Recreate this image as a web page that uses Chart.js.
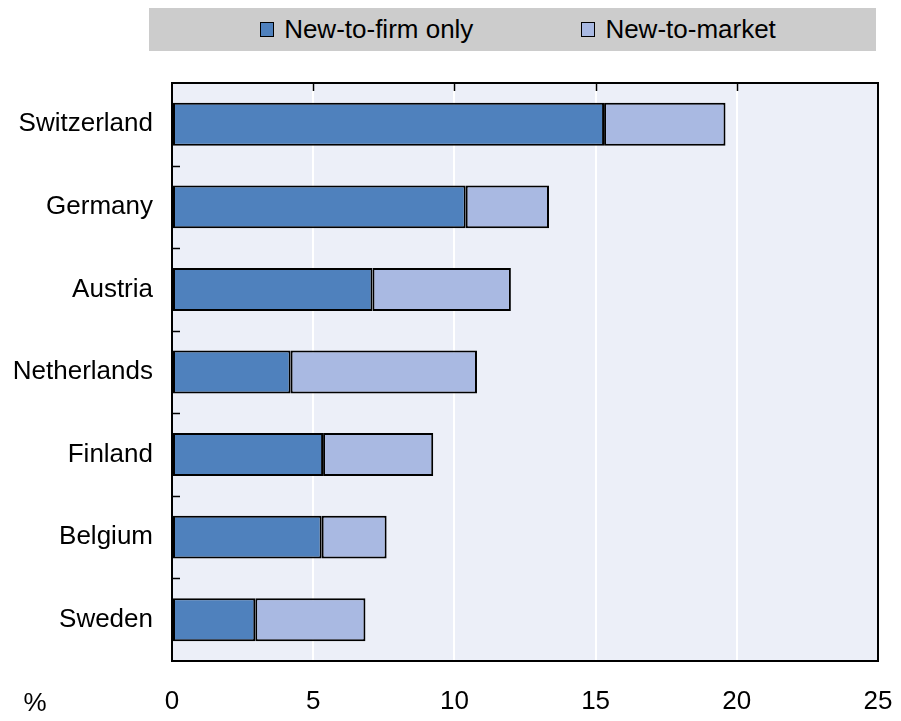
<!DOCTYPE html>
<html>
<head>
<meta charset="utf-8">
<script src="https://cdn.jsdelivr.net/npm/chart.js@4/dist/chart.umd.min.js"></script>
<style>
  body{ margin:0; background:#fff; }
  #wrap{ position:relative; width:901px; height:721px; }
  #chart{ position:absolute; left:0; top:0; }
  #legend{
    position:absolute; left:149px; top:8px; width:727px; height:43px;
    background:#cccccc; display:flex; justify-content:center; align-items:center;
    font-family:"Liberation Sans",Arial,sans-serif;
    font-size:26px; color:#000; padding-left:11px; box-sizing:border-box;
  }
  .item{ display:flex; align-items:center; margin:0 54px; }
  .box{ width:12px; height:13px; border:1.5px solid #000; margin-right:10px; }
</style>
</head>
<body>
<div id="wrap">
  <div id="legend"></div>
  <canvas id="chart" width="901" height="721"></canvas>
</div>
<script>
var countries   = ['Switzerland','Germany','Austria','Netherlands','Finland','Belgium','Sweden'];
var newToFirm   = [15.3, 10.4, 7.1, 4.2, 5.35, 5.3, 2.95];
var newToMarket = [4.3, 2.95, 4.9, 6.6, 3.9, 2.3, 3.9];
var seriesNames = ['New-to-firm only','New-to-market'];
var seriesColors= ['#4f81bd','#a9b9e2'];
var xTicks      = [0, 5, 10, 15, 20, 25];

var FONT = '"Liberation Sans",Arial,sans-serif';

// legend in html
var lg = document.getElementById('legend');
for(var i=0;i<seriesNames.length;i++){
  var it = document.createElement('div');
  it.className = 'item';
  it.innerHTML = '<span class="box" style="background:' + seriesColors[i] + '"></span>' + seriesNames[i];
  lg.appendChild(it);
}

var framePlugin = {
  id: 'frame',
  beforeDraw: function(chart){
    var a = chart.chartArea, c = chart.ctx;
    c.save();
    c.fillStyle = '#eceff8';
    c.fillRect(a.left, a.top, a.right - a.left, a.bottom - a.top);
    c.restore();
  },
  afterDatasetsDraw: function(chart){
    var a = chart.chartArea, c = chart.ctx;
    var xs = chart.scales.x, ys = chart.scales.y;
    c.save();
    c.strokeStyle = '#000';
    c.lineWidth = 1.5;
    // top ticks pointing in
    c.beginPath();
    for(var i=1;i<xTicks.length-1;i++){
      var px = Math.round(xs.getPixelForValue(xTicks[i])) + 0.5;
      c.moveTo(px, a.top); c.lineTo(px, a.top + 8);
    }
    // left ticks between categories
    for(var j=0;j<countries.length-1;j++){
      var py = (ys.getPixelForValue(j) + ys.getPixelForValue(j+1)) / 2;
      py = Math.round(py) + 0.5;
      c.moveTo(a.left, py); c.lineTo(a.left + 8, py);
    }
    c.stroke();
    c.lineWidth = 2;
    c.strokeRect(a.left, a.top, a.right - a.left, a.bottom - a.top);
    c.fillStyle = '#000';
    c.font = '26px ' + FONT;
    c.textAlign = 'center';
    c.textBaseline = 'middle';
    c.fillText('%', 35, 704);
    c.restore();
  }
};

new Chart(document.getElementById('chart').getContext('2d'), {
  type: 'bar',
  data: {
    labels: countries,
    datasets: [
      { label: seriesNames[0], data: newToFirm, backgroundColor: seriesColors[0],
        borderColor: '#000', borderWidth: 2, borderSkipped: false },
      { label: seriesNames[1], data: newToMarket, backgroundColor: seriesColors[1],
        borderColor: '#000', borderWidth: 2, borderSkipped: false }
    ]
  },
  options: {
    indexAxis: 'y',
    responsive: false,
    animation: false,
    layout: { padding: { top: 83, right: 23, left: 0, bottom: 0 } },
    datasets: { bar: { categoryPercentage: 1, barPercentage: 0.52 } },
    plugins: { legend: { display: false }, tooltip: { enabled: false } },
    scales: {
      x: {
        stacked: true, min: 0, max: 25,
        afterFit: function(s){ s.height = 60; s.paddingLeft = 0; s.paddingRight = 0; },
        afterBuildTicks: function(s){ s.ticks = xTicks.map(function(v){ return { value: v }; }); },
        border: { display: false },
        grid: { color: '#ffffff', lineWidth: 2, drawTicks: false },
        ticks: { color: '#000', padding: 25, font: { family: FONT, size: 26 } }
      },
      y: {
        stacked: true,
        afterFit: function(s){ s.width = 172; s.paddingTop = 0; s.paddingBottom = 0; },
        border: { display: false },
        grid: { display: false },
        ticks: { color: '#000', padding: 11, font: { family: FONT, size: 26 } }
      }
    }
  },
  plugins: [framePlugin]
});
</script>
</body>
</html>
